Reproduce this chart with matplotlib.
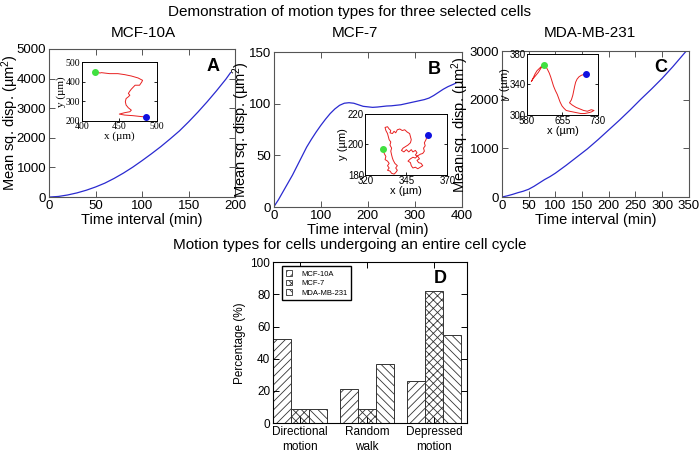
import matplotlib
matplotlib.use("Agg")
import matplotlib.pyplot as plt
from matplotlib.patches import Patch

plt.rcParams['font.family'] = ['Liberation Sans', 'DejaVu Sans']
plt.rcParams['mathtext.fontset'] = 'custom'
plt.rcParams['mathtext.rm'] = 'Liberation Sans'
plt.rcParams['mathtext.it'] = 'Liberation Sans:italic'
plt.rcParams['hatch.linewidth'] = 0.6

# --- panel A: MCF-10A, mean squared displacement (directional)
tA = [0, 10, 20, 30, 40, 50, 60, 70, 80, 90, 100, 110, 120, 130, 140, 150, 160, 170, 180, 190, 195]
msdA = [0, 20, 70, 140, 230, 340, 470, 630, 810, 1010, 1230, 1460, 1700, 1960, 2230,
        2540, 2870, 3220, 3590, 3980, 4200]
trackA_x = [418, 421, 424, 426, 437, 448, 457, 466, 475, 481, 480, 477, 471, 466, 464, 462, 464,
            462, 459, 458, 459, 462, 466, 464, 457, 450, 457, 468, 480, 486]
trackA_y = [447, 449, 444, 446, 441, 441, 436, 429, 419, 407, 399, 382, 382, 362, 352, 340, 331,
            323, 314, 298, 281, 267, 255, 247, 242, 235, 230, 227, 222, 220]

# --- panel B: MCF-7 (depressed motion)
tB = [0, 10, 20, 30, 40, 50, 60, 70, 80, 90, 100, 110, 120, 130, 140, 150, 160, 170, 180, 190,
      200, 210, 220, 230, 240, 250, 260, 270, 280, 290, 300, 310, 320, 330, 340, 350, 360, 370,
      380, 387]
msdB = [0, 7, 15, 23, 31, 40, 49, 58, 65.5, 72.5, 79, 85, 90.5, 95, 98.5, 100.5, 101, 100.5, 99,
        97.5, 97, 96.5, 96.8, 97.3, 97.8, 98, 98.5, 99, 100, 101, 102, 103, 104, 105.5, 108, 111,
        114, 116.5, 118.5, 120]
trackB_x = [330.7, 331.5, 332.5, 332, 333.5, 334.5, 333.5, 334.5, 333.5, 335, 336, 337.5, 338.5,
            339.5, 338.5, 339.5, 338, 337, 336.5, 336, 335.5, 336, 335, 335.5, 334.5, 334, 333.5,
            332.5, 332, 333.5, 334.5, 335.5, 335, 336.5, 337.5, 338.5, 339.5, 341, 342.5, 344,
            345.5, 347, 347.5, 348, 347.5, 346, 344.5, 343, 342, 343.5, 345, 346.5, 348, 349,
            350.5, 351.5, 350.5, 352, 353, 351.5, 352.5, 354, 355, 353.5, 352, 350.5, 349, 348,
            347.5, 346, 347.5, 349, 350.5, 352, 353.5, 355, 356, 355.5, 356.5, 356, 357, 357.5,
            358.2]
trackB_y = [196.7, 194, 192, 190, 189, 187.5, 186, 184.5, 183, 182.5, 181, 180.5, 181.5, 183,
            184.5, 186, 187.5, 189.5, 191, 193, 195.5, 197.5, 199.5, 201.5, 203, 205, 207, 209,
            211, 211.5, 210, 209, 207.5, 207, 208.5, 207.5, 209.5, 210, 209, 209.5, 208, 207, 205,
            203, 201, 199.5, 198.5, 197.5, 196, 195, 196.5, 195, 196.5, 195, 196, 194.5, 193, 192,
            190.5, 189.5, 188, 187.5, 186, 185, 184, 185, 184.5, 186, 188, 189, 190.5, 191.5, 191,
            192.5, 193.5, 194, 195.5, 197.5, 199, 201, 203, 205, 206.2]

# --- panel C: MDA-MB-231 (directional)
tC = [0, 10, 20, 30, 40, 50, 60, 70, 80, 90, 100, 120, 140, 160, 180, 200, 220, 240, 260, 280,
      300, 320, 345]
msdC = [0, 25, 55, 90, 120, 160, 220, 290, 360, 420, 490, 650, 820, 990, 1180, 1380, 1580,
        1790, 2010, 2220, 2440, 2680, 3000]
trackC_x = [615, 611, 606, 601, 597, 594, 591, 589, 592, 596, 600, 604, 608, 612, 615, 619, 623,
            627, 630, 633, 636, 640, 644, 647, 650, 654, 658, 663, 670, 678, 686, 694, 702, 710,
            716, 722, 716, 708, 700, 692, 684, 676, 670, 674, 677, 679, 681, 683, 686, 690, 695,
            700, 704]
trackC_y = [366, 364, 361, 358, 354, 350, 346, 344, 347, 350, 353, 356, 360, 364, 366, 364, 360,
            355, 350, 344, 338, 332, 327, 322, 317, 312, 309, 306, 305, 304, 303, 302, 302, 303,
            304, 306, 307, 305, 306, 308, 310, 313, 316, 320, 326, 332, 338, 343, 347, 350, 352,
            353, 354]

# --- panel D: motion types over an entire cell cycle
motion_types = ['Directional\nmotion', 'Random\nwalk', 'Depressed\nmotion']
cell_lines = ['MCF-10A', 'MCF-7', 'MDA-MB-231']
pct = {
    'MCF-10A': [52.5, 21, 26],
    'MCF-7': [8.5, 8.5, 82],
    'MDA-MB-231': [8.5, 36.5, 54.5],
}
hatches = ['////', 'xxxx', '\\\\\\\\']

BLUE = '#2a2ad0'
RED = '#e82020'

fig = plt.figure(figsize=(7, 4.53), dpi=100)


def style_main(ax, ylab_x):
    ax.tick_params(direction='in', top=True, right=True, length=4, width=0.7,
                   labelsize=9.5, pad=2, color='#555555')
    for s in ax.spines.values():
        s.set_color('#555555')
        s.set_linewidth(0.8)
    ax.set_xlabel('Time interval (min)', fontsize=10.5, labelpad=1)
    ax.set_ylabel('Mean sq. disp. (µm$^2$)', fontsize=10.5)
    # ylabel anchor is its right edge (rotated text)
    ax.yaxis.set_label_coords(ylab_x, 0.5)


def style_inset(ax, serif=False):
    ax.tick_params(direction='in', top=False, right=True, length=2.5, width=0.6,
                   labelsize=7, pad=1)
    for s in ax.spines.values():
        s.set_linewidth(0.7)
    if serif:
        for lab in ax.get_xticklabels() + ax.get_yticklabels():
            lab.set_family('Liberation Serif')


# A
axA = fig.add_axes([0.070, 0.565, 0.266, 0.327])
axA.plot(tA, msdA, color=BLUE, lw=0.9)
axA.set_xlim(0, 200)
axA.set_ylim(0, 5000)
axA.set_xticks([0, 50, 100, 150, 200])
axA.set_yticks([0, 1000, 2000, 3000, 4000, 5000])
style_main(axA, -0.15)
axA.text(0.88, 0.88, 'A', transform=axA.transAxes, fontsize=13, fontweight='bold',
         ha='center', va='center')
insA = fig.add_axes([0.117, 0.733, 0.107, 0.130])
insA.plot(trackA_x, trackA_y, color=RED, lw=0.7)
insA.plot(trackA_x[0], trackA_y[0], 'o', color='#40e040', ms=4)
insA.plot(trackA_x[-1], trackA_y[-1], 'o', color='#1010e0', ms=4)
insA.set_xlim(400, 500)
insA.set_ylim(200, 500)
insA.set_xticks([400, 450, 500])
insA.set_yticks([200, 300, 400, 500])
style_inset(insA, serif=True)
insA.set_xlabel('x (µm)', fontsize=8, family='Liberation Serif', labelpad=0)
insA.set_ylabel('y (µm)', fontsize=8, family='Liberation Serif', labelpad=0)

# B
axB = fig.add_axes([0.391, 0.543, 0.269, 0.342])
axB.plot(tB, msdB, color=BLUE, lw=0.9)
axB.set_xlim(0, 400)
axB.set_ylim(0, 150)
axB.set_xticks([0, 100, 200, 300, 400])
axB.set_yticks([0, 50, 100, 150])
style_main(axB, -0.115)
axB.text(0.85, 0.89, 'B', transform=axB.transAxes, fontsize=13, fontweight='bold',
         ha='center', va='center')
insB = fig.add_axes([0.522, 0.614, 0.117, 0.135])
insB.plot(trackB_x, trackB_y, color=RED, lw=0.7)
insB.plot(trackB_x[0], trackB_y[0], 'o', color='#40e040', ms=4)
insB.plot(trackB_x[-1], trackB_y[-1], 'o', color='#1010e0', ms=4)
insB.set_xlim(320, 370)
insB.set_ylim(180, 220)
insB.set_xticks([320, 345, 370])
insB.set_yticks([180, 200, 220])
style_inset(insB)
insB.set_xlabel('x (µm)', fontsize=8, labelpad=0)
insB.set_ylabel('y (µm)', fontsize=8, labelpad=0)

# C
axC = fig.add_axes([0.717, 0.565, 0.267, 0.322])
axC.plot(tC, msdC, color=BLUE, lw=0.9)
axC.set_xlim(0, 350)
axC.set_ylim(0, 3000)
axC.set_xticks(range(0, 351, 50))
axC.set_yticks([0, 1000, 2000, 3000])
style_main(axC, -0.168)
axC.text(0.85, 0.89, 'C', transform=axC.transAxes, fontsize=13, fontweight='bold',
         ha='center', va='center')
insC = fig.add_axes([0.753, 0.746, 0.101, 0.135])
insC.plot(trackC_x, trackC_y, color=RED, lw=0.7)
insC.plot(trackC_x[0], trackC_y[0], 'o', color='#40e040', ms=4)
insC.plot(trackC_x[-1], trackC_y[-1], 'o', color='#1010e0', ms=4)
insC.set_xlim(580, 730)
insC.set_ylim(300, 380)
insC.set_xticks([580, 655, 730])
insC.set_yticks([300, 340, 380])
style_inset(insC)
insC.set_xlabel('x (µm)', fontsize=8, labelpad=0)
insC.set_ylabel('y (µm)', fontsize=8, labelpad=0)

# D
axD = fig.add_axes([0.39, 0.066, 0.277, 0.355])
w = 0.267
for i, cl in enumerate(cell_lines):
    xs = [k + (i - 1) * w for k in range(len(motion_types))]
    axD.bar(xs, pct[cl], width=w, color='white', edgecolor='#333333', hatch=hatches[i],
            lw=0.7)
axD.set_xlim(-0.4, 2.49)
axD.set_ylim(0, 100)
axD.set_xticks(range(len(motion_types)))
axD.set_xticklabels(motion_types, fontsize=8.5, linespacing=1.3)
axD.set_yticks(range(0, 101, 20))
axD.tick_params(direction='in', top=True, right=True, length=4, width=0.7, labelsize=8.5, pad=2)
axD.set_ylabel('Percentage (%)', fontsize=8.5, labelpad=3)
for s in axD.spines.values():
    s.set_linewidth(0.8)
axD.text(0.86, 0.9, 'D', transform=axD.transAxes, fontsize=13, fontweight='bold',
         ha='center', va='center')
handles = [Patch(facecolor='white', edgecolor='#333333', hatch=h, lw=0.6) for h in hatches]
leg = axD.legend(handles, cell_lines, loc='upper left', bbox_to_anchor=(0.04, 0.985),
                 fontsize=5.5, handlelength=0.8, handleheight=0.8, handletextpad=1.2,
                 borderpad=0.5, labelspacing=0.25, fancybox=False, edgecolor='black',
                 framealpha=1, borderaxespad=0.2)
leg.get_frame().set_linewidth(1.0)

fig.text(0.5, 0.974, 'Demonstration of motion types for three selected cells', ha='center',
         va='center', fontsize=11)
fig.text(0.205, 0.927, 'MCF-10A', ha='center', va='center', fontsize=11)
fig.text(0.507, 0.927, 'MCF-7', ha='center', va='center', fontsize=11)
fig.text(0.843, 0.927, 'MDA-MB-231', ha='center', va='center', fontsize=11)
fig.text(0.5, 0.459, 'Motion types for cells undergoing an entire cell cycle', ha='center',
         va='center', fontsize=11)

fig.savefig('out.png', dpi=100)
